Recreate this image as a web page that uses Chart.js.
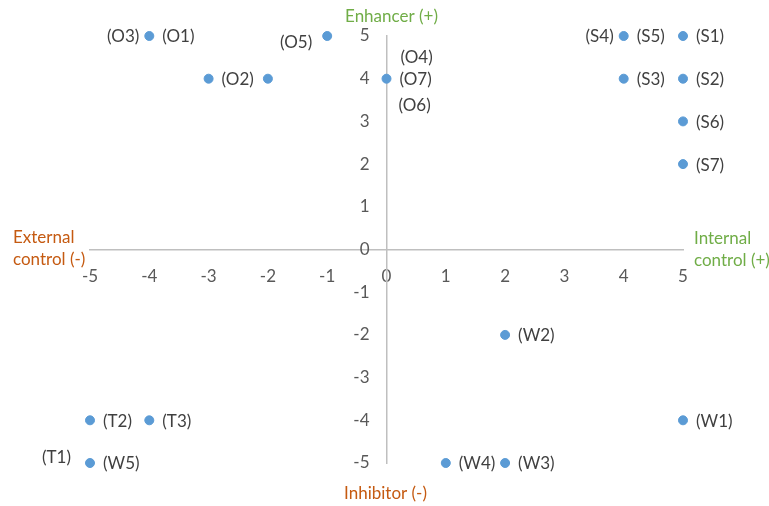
<!DOCTYPE html>
<html>
<head>
<meta charset="utf-8">
<script src="https://cdn.jsdelivr.net/npm/chart.js@4/dist/chart.umd.min.js"></script>
<style>
  html, body { margin: 0; padding: 0; background: #fff; }
  #wrap { width: 769px; height: 506px; }
</style>
</head>
<body>
<div id="wrap"><canvas id="myChart"></canvas></div>
<script>
// points (x = internal/external control, y = enhancer/inhibitor)
const pointX = [-4, -1, -3, -2, 0, 4, 5, 4, 5, 5, 5, 2, 5, -5, -4, -5, 1, 2];
const pointY = [5, 5, 4, 4, 4, 5, 5, 4, 4, 3, 2, -2, -4, -4, -4, -5, -5, -5];

// labels, which point they sit next to and on which side
const labelTexts = ['(O3)', '(O1)', '(O5)', '(O2)', '(O4)', '(O7)', '(O6)', '(S4)', '(S5)', '(S1)', '(S3)',
  '(S2)', '(S6)', '(S7)', '(W2)', '(W1)', '(T2)', '(T3)', '(T1)', '(W5)', '(W4)', '(W3)'];
const labelPoint = [0, 0, 1, 2, 4, 4, 4, 5, 5, 6, 7, 8, 9, 10, 11, 12, 13, 14, 15, 15, 16, 17];
const labelSide = ['left', 'right', 'lowleft', 'right', 'above', 'right', 'below', 'left', 'right', 'right', 'right',
  'right', 'right', 'right', 'right', 'right', 'right', 'right', 'upleft', 'right', 'right', 'right'];

const axisMin = -5;
const axisMax = 5;

const FONT = 'Lato, "Open Sans", sans-serif';

const pointLabels = {
  id: 'pointLabels',
  afterDatasetsDraw(chart) {
    const { ctx } = chart;
    const meta = chart.getDatasetMeta(0);
    ctx.save();
    ctx.font = '17px ' + FONT;
    ctx.fillStyle = '#404040';
    ctx.textBaseline = 'middle';
    labelTexts.forEach((txt, i) => {
      const el = meta.data[labelPoint[i]];
      let x = el.x, y = el.y + 1;
      const side = labelSide[i];
      ctx.textAlign = 'left';
      if (side === 'right') { x += 13; }
      else if (side === 'left') { x -= 10; ctx.textAlign = 'right'; }
      else if (side === 'lowleft') { x -= 15; y += 6; ctx.textAlign = 'right'; }
      else if (side === 'upleft') { x -= 19; y -= 6; ctx.textAlign = 'right'; }
      else if (side === 'above') { x += 14; y -= 22; }
      else if (side === 'below') { x += 12; y += 26; }
      ctx.fillText(txt, x, y);
    });
    ctx.restore();
  }
};

// y tick labels: chart.js ignores tick padding for an axis placed at x = 0,
// so draw them from the scale's own ticks
const yTickLabels = {
  id: 'yTickLabels',
  afterDraw(chart) {
    const { ctx } = chart;
    const ys = chart.scales.y;
    const x0 = chart.scales.x.getPixelForValue(0);
    ctx.save();
    ctx.font = '17px ' + FONT;
    ctx.fillStyle = '#595959';
    ctx.textAlign = 'right';
    ctx.textBaseline = 'middle';
    ys.ticks.forEach((t) => {
      ctx.fillText(String(t.value), x0 - 17, ys.getPixelForValue(t.value));
    });
    ctx.restore();
  }
};

const axisTitles = {
  id: 'axisTitles',
  afterDraw(chart) {
    const { ctx, chartArea } = chart;
    const x0 = chart.scales.x.getPixelForValue(0);
    const y0 = chart.scales.y.getPixelForValue(0);
    ctx.save();
    ctx.font = '17px ' + FONT;
    ctx.textBaseline = 'middle';
    ctx.fillStyle = '#70AD47';
    ctx.textAlign = 'center';
    ctx.fillText('Enhancer (+)', x0 + 5, chartArea.top - 19);
    ctx.textAlign = 'left';
    ctx.fillText('Internal', chartArea.right + 11, y0 - 11);
    ctx.fillText('control (+)', chartArea.right + 11, y0 + 11);
    ctx.fillStyle = '#C55A11';
    ctx.fillText('External', 13, y0 - 12);
    ctx.fillText('control (-)', 13, y0 + 10);
    ctx.textAlign = 'center';
    ctx.fillText('Inhibitor (-)', x0 - 1, chartArea.bottom + 31);
    ctx.restore();
  }
};

const data = pointX.map((x, i) => ({ x: x, y: pointY[i] }));

new Chart(document.getElementById('myChart'), {
  type: 'scatter',
  plugins: [pointLabels, yTickLabels, axisTitles],
  data: {
    datasets: [{
      data: data,
      backgroundColor: '#5B9BD5',
      borderColor: '#5B9BD5',
      pointRadius: 4.5,
      pointHoverRadius: 4.5,
      clip: false,
    }]
  },
  options: {
    responsive: true,
    maintainAspectRatio: false,
    animation: false,
    layout: { padding: { left: 90, right: 86, top: 36, bottom: 43 } },
    plugins: {
      legend: { display: false },
      tooltip: { enabled: false },
    },
    scales: {
      x: {
        type: 'linear',
        position: { y: 0 },
        min: axisMin,
        max: axisMax,
        grid: { display: false, drawTicks: false },
        border: { color: '#BFBFBF', width: 1.5 },
        ticks: {
          stepSize: 1,
          padding: 17,
          color: '#595959',
          font: { family: FONT, size: 17 },
          maxRotation: 0,
        },
      },
      y: {
        type: 'linear',
        position: { x: 0 },
        min: axisMin,
        max: axisMax,
        grid: { display: false, drawTicks: false },
        border: { color: '#BFBFBF', width: 1.5 },
        ticks: {
          stepSize: 1,
          display: false,
        },
      },
    },
  },
});
</script>
</body>
</html>
